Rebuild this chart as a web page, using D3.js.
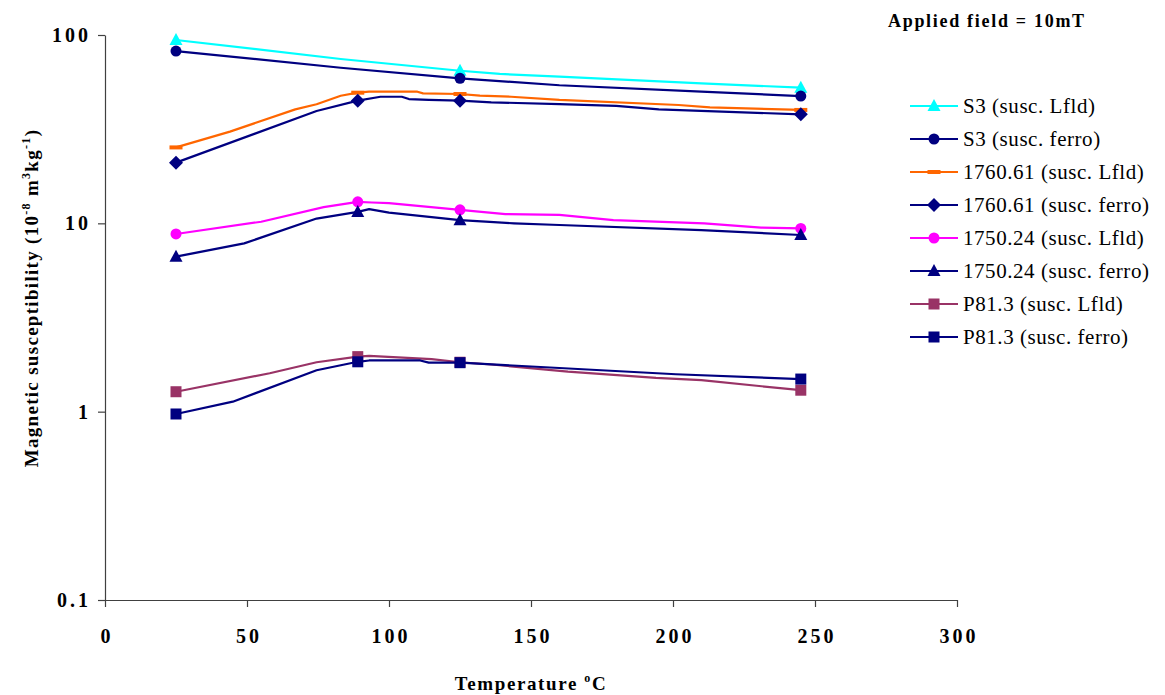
<!DOCTYPE html>
<html>
<head>
<meta charset="utf-8">
<script src="https://cdn.jsdelivr.net/npm/d3@7"></script>
<style>
  html, body { margin: 0; padding: 0; background: #fff; }
  svg { display: block; font-family: "Liberation Serif", "Times New Roman", serif; }
</style>
</head>
<body>
<svg id="chart" width="1165" height="695"></svg>
<script>
// Temperature (°C) and susceptibility (1e-8 m3/kg) for each heating curve
const s3LfldT = [25, 83, 125, 139, 160, 210, 245];
const s3LfldV = [94.1, 74.6, 64.6, 62.1, 60.1, 55.4, 52.5];
const s3LfldMarks = [25, 125, 245];

const s3FerroT = [25, 83, 125, 160, 210, 245];
const s3FerroV = [82.2, 67.0, 58.9, 54.1, 50.0, 47.4];
const s3FerroMarks = [25, 125, 245];

const s1760LfldT = [25, 44, 67, 74.5, 83, 89, 93, 110, 112, 125, 132, 143, 160, 202, 213, 245];
const s1760LfldV = [25.3, 30.7, 40.3, 42.9, 47.6, 49.4, 50.0, 50.0, 49.0, 48.6, 47.6, 47.0, 45.2, 42.5, 41.3, 40.0];
const s1760LfldMarks = [25, 89, 125, 245];

const s1760FerroT = [25, 74.5, 89, 97, 104.5, 107, 114, 125, 136, 160, 180, 195, 245];
const s1760FerroV = [21.0, 39.5, 44.8, 47.0, 47.0, 45.7, 45.2, 44.8, 43.9, 43.0, 42.0, 40.3, 37.9];
const s1760FerroMarks = [25, 89, 125, 245];

const s1750LfldT = [25, 55, 77, 89, 94, 100, 125, 141, 160, 179, 211, 231, 245];
const s1750LfldV = [8.78, 10.2, 12.2, 13.0, 12.9, 12.8, 11.8, 11.2, 11.1, 10.4, 10.0, 9.5, 9.4];
const s1750LfldMarks = [25, 89, 125, 245];

const s1750FerroT = [25, 49, 74.5, 89, 93, 100, 125, 134, 144, 160, 210, 245];
const s1750FerroV = [6.65, 7.83, 10.6, 11.5, 11.9, 11.4, 10.4, 10.2, 10.0, 9.8, 9.2, 8.67];
const s1750FerroMarks = [25, 89, 125, 245];

const p81LfldT = [25, 58, 74.5, 89, 93, 115, 125, 136, 163, 194, 210, 245];
const p81LfldV = [1.276, 1.60, 1.83, 1.96, 1.98, 1.90, 1.83, 1.78, 1.63, 1.51, 1.47, 1.30];
const p81LfldMarks = [25, 89, 125, 245];

const p81FerroT = [25, 45, 74.5, 89, 93, 111, 114, 125, 201, 245];
const p81FerroV = [0.972, 1.13, 1.66, 1.84, 1.87, 1.87, 1.82, 1.82, 1.58, 1.49];
const p81FerroMarks = [25, 89, 125, 245];

const seriesNames = [
  "S3 (susc. Lfld)", "S3 (susc. ferro)",
  "1760.61 (susc. Lfld)", "1760.61 (susc. ferro)",
  "1750.24 (susc. Lfld)", "1750.24 (susc. ferro)",
  "P81.3 (susc. Lfld)", "P81.3 (susc. ferro)"
];
const xTicks = [0, 50, 100, 150, 200, 250, 300];
const yTicks = [0.1, 1, 10, 100];

// Styling per series
const seriesStyle = [
  { color: "#00FFFF", shape: "triangle" },
  { color: "#000080", shape: "circle" },
  { color: "#FF6600", shape: "dash" },
  { color: "#000080", shape: "diamond" },
  { color: "#FF00FF", shape: "circle" },
  { color: "#000080", shape: "triangle" },
  { color: "#993366", shape: "square" },
  { color: "#000080", shape: "square" }
];

const seriesData = [
  [s3LfldT, s3LfldV, s3LfldMarks],
  [s3FerroT, s3FerroV, s3FerroMarks],
  [s1760LfldT, s1760LfldV, s1760LfldMarks],
  [s1760FerroT, s1760FerroV, s1760FerroMarks],
  [s1750LfldT, s1750LfldV, s1750LfldMarks],
  [s1750FerroT, s1750FerroV, s1750FerroMarks],
  [p81LfldT, p81LfldV, p81LfldMarks],
  [p81FerroT, p81FerroV, p81FerroMarks]
].map(([t, v, m], i) => ({
  name: seriesNames[i],
  ...seriesStyle[i],
  points: t.map((x, j) => ({ t: x, v: v[j] })),
  marks: t.map((x, j) => ({ t: x, v: v[j] })).filter(p => m.includes(p.t))
}));

const svg = d3.select("#chart");
const plot = { left: 105, right: 957, top: 35, bottom: 600 };

const x = d3.scaleLinear().domain([0, 300]).range([plot.left, plot.right]);
const y = d3.scaleLog().domain([0.1, 100]).range([plot.bottom, plot.top]);

// Axes
const axisColor = "#404040";
const xAxis = svg.append("g")
  .attr("transform", `translate(0,${plot.bottom})`)
  .call(d3.axisBottom(x).tickValues(xTicks).tickSizeInner(7).tickSizeOuter(0).tickPadding(22));
const yAxis = svg.append("g")
  .attr("transform", `translate(${plot.left},0)`)
  .call(d3.axisLeft(y).tickValues(yTicks).tickFormat(d3.format("~g")).tickSizeInner(7).tickSizeOuter(0).tickPadding(7));

[xAxis, yAxis].forEach(g => {
  g.select(".domain").attr("stroke", axisColor).attr("stroke-width", 1.2);
  g.selectAll(".tick line").attr("stroke", axisColor).attr("stroke-width", 1.2);
  g.selectAll(".tick text")
    .attr("fill", "#000")
    .style("font-family", "'Liberation Serif', serif")
    .style("font-weight", "bold")
    .style("font-size", "20px")
    .style("letter-spacing", "3px");
});
xAxis.selectAll(".tick text").attr("dx", 1.5);

// Marker shapes
function drawMarker(sel, shape, color, cx, cy) {
  const g = sel.append("g").attr("transform", `translate(${cx},${cy})`);
  if (shape === "triangle") {
    g.append("path").attr("d", "M0,-7 L6.5,5 L-6.5,5 Z").attr("fill", color);
  } else if (shape === "circle") {
    g.append("circle").attr("r", 5.5).attr("fill", color);
  } else if (shape === "diamond") {
    g.append("path").attr("d", "M0,-7 L7,0 L0,7 L-7,0 Z").attr("fill", color);
  } else if (shape === "square") {
    g.append("rect").attr("x", -5.5).attr("y", -5.5).attr("width", 11).attr("height", 11).attr("fill", color);
  } else if (shape === "dash") {
    g.append("rect").attr("x", -6.5).attr("y", -2).attr("width", 13).attr("height", 4).attr("fill", color);
  }
}

// Curves
const line = d3.line().x(d => x(d.t)).y(d => y(d.v));
const curves = svg.append("g");
seriesData.forEach(s => {
  curves.append("path")
    .datum(s.points)
    .attr("d", line)
    .attr("fill", "none")
    .attr("stroke", s.color)
    .attr("stroke-width", 2.2)
    .attr("stroke-linejoin", "round");
  s.marks.forEach(p => drawMarker(curves, s.shape, s.color, x(p.t), y(p.v)));
});

// Legend
svg.append("text")
  .attr("x", 888).attr("y", 27)
  .style("font-weight", "bold").style("font-size", "18px")
  .style("letter-spacing", "1.7px")
  .text("Applied field = 10mT");

const legend = svg.append("g");
seriesData.forEach((s, i) => {
  const ly = 106 + i * 33;
  legend.append("line")
    .attr("x1", 910).attr("x2", 958).attr("y1", ly).attr("y2", ly)
    .attr("stroke", s.color).attr("stroke-width", 2);
  drawMarker(legend, s.shape, s.color, 934, ly);
  legend.append("text")
    .attr("x", 963).attr("y", ly).attr("dy", "0.34em")
    .style("font-size", "21px")
    .style("letter-spacing", "0.55px")
    .text(s.name);
});

// Axis titles
const xTitle = svg.append("text")
  .attr("x", 531).attr("y", 690)
  .attr("text-anchor", "middle")
  .style("font-weight", "bold").style("font-size", "19px")
  .style("letter-spacing", "1.6px");
xTitle.append("tspan").text("Temperature ");
xTitle.append("tspan").attr("dy", -8).style("font-size", "12px").text("o");
xTitle.append("tspan").attr("dy", 8).text("C");

const yTitle = svg.append("text")
  .attr("transform", "translate(38,298) rotate(-90)")
  .attr("text-anchor", "middle")
  .style("font-weight", "bold").style("font-size", "19px")
  .style("letter-spacing", "1.3px");
yTitle.append("tspan").text("Magnetic susceptibility (10");
yTitle.append("tspan").attr("dy", -8).style("font-size", "12px").text("-8");
yTitle.append("tspan").attr("dy", 8).text(" m");
yTitle.append("tspan").attr("dy", -8).style("font-size", "12px").text("3");
yTitle.append("tspan").attr("dy", 8).text("kg");
yTitle.append("tspan").attr("dy", -8).style("font-size", "12px").text("-1");
yTitle.append("tspan").attr("dy", 8).text(")");
</script>
</body>
</html>
